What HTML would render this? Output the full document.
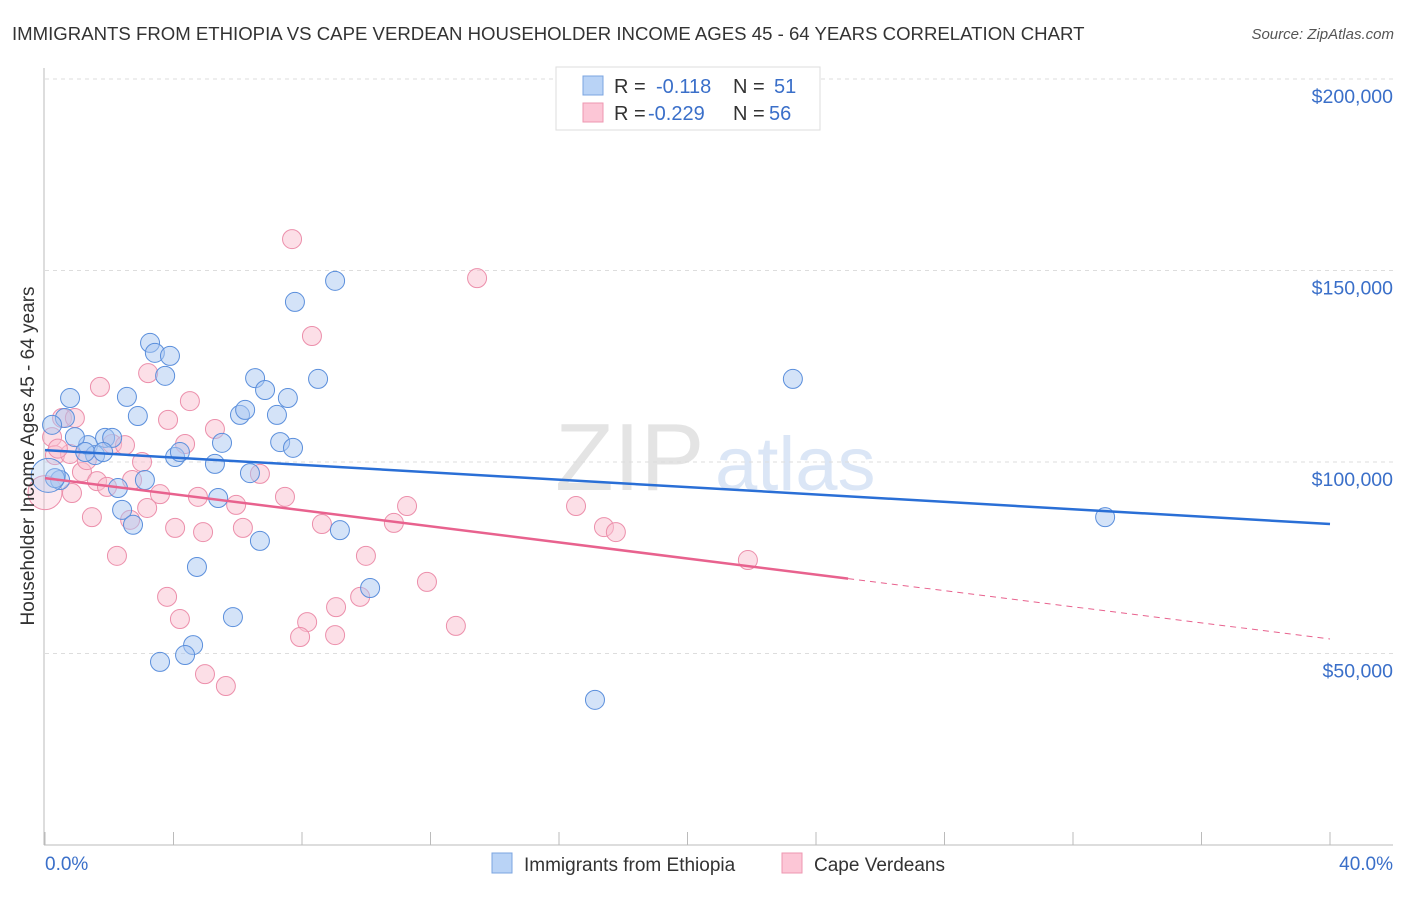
<!DOCTYPE html>
<html><head><meta charset="utf-8"><style>
body{margin:0;background:#fff;width:1406px;height:892px;overflow:hidden;font-family:"Liberation Sans",sans-serif}
svg text{font-family:"Liberation Sans",sans-serif}
</style></head><body>
<svg id="chart" width="1406" height="892" xmlns="http://www.w3.org/2000/svg">
<text x="12" y="40" font-size="18.6" fill="#333">IMMIGRANTS FROM ETHIOPIA VS CAPE VERDEAN HOUSEHOLDER INCOME AGES 45 - 64 YEARS CORRELATION CHART</text>
<text x="1394" y="39" font-size="15" fill="#555" font-style="italic" text-anchor="end">Source: ZipAtlas.com</text>
<g>
<text x="555" y="490" font-size="96" fill="#e4e4e4" font-family="Liberation Serif,serif">ZIP</text>
<text x="715" y="490" font-size="76" fill="#dbe6f6">atlas</text>
</g>
<g id="grid"></g>
<g id="axes"></g>
<g id="marks"></g>
<g>
<rect x="556" y="67" width="264" height="63" fill="#fff" stroke="#ddd"/>
<rect x="583" y="76" width="20" height="19" fill="#b9d3f6" stroke="#7ba4e0"/>
<rect x="583" y="103" width="20" height="19" fill="#fcc6d6" stroke="#ee97b0"/>
<text x="614" y="93" font-size="20" fill="#333">R = </text><text x="656" y="93" font-size="20" fill="#3a6fc9">-0.118</text>
<text x="733" y="93" font-size="20" fill="#333">N = </text><text x="774" y="93" font-size="20" fill="#3a6fc9">51</text>
<text x="614" y="120" font-size="20" fill="#333">R = </text><text x="648" y="120" font-size="20" fill="#3a6fc9">-0.229</text>
<text x="733" y="120" font-size="20" fill="#333">N = </text><text x="769" y="120" font-size="20" fill="#3a6fc9">56</text>
</g>
<g>
<rect x="492" y="853" width="20" height="20" fill="#b9d3f6" stroke="#7ba4e0"/>
<text x="524" y="871" font-size="19" fill="#333">Immigrants from Ethiopia</text>
<rect x="782" y="853" width="20" height="20" fill="#fcc6d6" stroke="#ee97b0"/>
<text x="814" y="871" font-size="19" fill="#333">Cape Verdeans</text>
</g>
<text transform="translate(34,456) rotate(-90)" font-size="19" fill="#333" text-anchor="middle">Householder Income Ages 45 - 64 years</text>
<text x="45" y="870" font-size="19" fill="#3a6fc9">0.0%</text>
<text x="1393" y="870" font-size="19" fill="#3a6fc9" text-anchor="end">40.0%</text>
</svg>
<script>
const yTicks=[200000,150000,100000,50000];
const yTickLabels=["$200,000","$150,000","$100,000","$50,000"];
const xTicks=[0,4,8,12,16,20,24,28,32,36,40];
const blueX=[0.78,0.62,0.22,1.34,0.93,1.56,1.25,1.87,2.09,0.47,0.31,2.27,2.40,2.74,2.55,2.89,3.27,3.42,3.89,3.74,3.11,4.05,4.20,5.29,5.51,5.39,6.07,6.23,6.54,6.85,6.38,6.69,7.22,7.32,7.56,7.72,7.78,8.50,9.03,9.18,10.12,4.73,5.85,4.61,4.36,3.58,17.12,23.28,33.0,1.81,0.1];
const blueY=[116.7,111.5,109.7,104.4,106.5,101.8,102.6,106.3,106.3,95.3,95.8,93.2,87.5,83.6,117.0,112.0,131.1,128.5,127.7,122.5,95.3,101.3,102.6,99.5,105.0,90.6,112.3,113.6,121.9,118.8,97.1,79.4,112.3,105.2,116.7,103.7,141.8,121.7,147.3,82.2,67.1,72.6,59.5,52.2,49.6,47.8,37.9,121.7,85.6,102.6,96.5];
const pinkX=[0.22,0.53,0.93,0.31,0.78,1.71,1.15,1.62,1.93,2.09,2.49,0.84,1.46,2.24,2.65,3.02,3.21,2.71,3.18,3.58,3.83,4.05,4.20,3.80,4.36,4.51,4.76,5.29,4.92,5.95,6.16,6.69,4.98,5.63,7.47,7.69,8.31,8.62,8.16,7.94,9.06,9.03,9.81,9.99,10.86,11.27,11.89,12.79,13.45,16.53,17.40,17.77,21.88,0.4,1.3,0.0];
const pinkY=[106.5,111.5,111.5,101.8,102.1,119.6,97.4,95.0,93.5,104.7,104.4,91.9,85.6,75.5,84.9,100.0,123.2,95.3,88.0,91.6,111.0,82.8,59.0,64.8,104.7,115.9,90.9,108.6,81.7,88.8,82.8,96.9,44.6,41.5,90.9,158.2,132.9,83.8,58.2,54.3,62.1,54.8,64.8,75.5,84.1,88.5,68.7,57.2,148.0,88.5,83.0,81.7,74.4,103.5,100.5,92.0];
const blueTrend=[103.1,83.8];
const pinkTrend=[95.8,53.8];
const pinkSolidEnd=25.0;
const NS="http://www.w3.org/2000/svg";
const X=v=>45+v/40*1285;
const Y=v=>845-v/200000*766;
function mk(tag,attrs,parent){const e=document.createElementNS(NS,tag);for(const k in attrs)e.setAttribute(k,attrs[k]);parent.appendChild(e);return e;}
const grid=document.getElementById('grid'),axes=document.getElementById('axes'),marks=document.getElementById('marks');
yTicks.forEach((t,i)=>{
 const l=mk('line',{x1:45,x2:1393,y1:Y(t),y2:Y(t),stroke:'#ddd','stroke-dasharray':'4,4'},grid);
 
 
 const tx=mk('text',{x:1393,y:Y(t)+24,'font-size':19.5,fill:'#3a6fc9','text-anchor':'end'},axes);
 tx.textContent=yTickLabels[i];
 
 
});
const ya=mk('line',{x1:44,x2:44,y1:68,y2:845,stroke:'#bbb'},axes);


const xa=mk('line',{x1:44,x2:1393,y1:845,y2:845,stroke:'#bbb'},axes);


xTicks.forEach(t=>{
 const l=mk('line',{x1:X(t),x2:X(t),y1:832,y2:845,stroke:'#bbb'},axes);
 
 
});
function pts(xs,ys,fill,stroke,name){
 xs.forEach((x,i)=>{
  const big=(i===xs.length-1);
  const c=mk('circle',{cx:X(x),cy:Y(ys[i]*1000),r:big?17:9.5,fill:fill,'fill-opacity':big?0.35:0.5,stroke:stroke,'stroke-width':1},marks);
  
  
 });
}
pts(pinkX,pinkY,'#f9bfd0','#ec8fab','cape-verdean-point');
pts(blueX,blueY,'#a9c8f2','#5b8fdc','ethiopia-point');
const bl=mk('line',{x1:X(0),y1:Y(blueTrend[0]*1000),x2:X(40),y2:Y(blueTrend[1]*1000),stroke:'#2a6fd6','stroke-width':2.5},marks);


const pv=x=>pinkTrend[0]+(pinkTrend[1]-pinkTrend[0])*x/40;
const pl=mk('line',{x1:X(0),y1:Y(pv(0)*1000),x2:X(pinkSolidEnd),y2:Y(pv(pinkSolidEnd)*1000),stroke:'#e8628e','stroke-width':2.5},marks);


const pd=mk('line',{x1:X(pinkSolidEnd),y1:Y(pv(pinkSolidEnd)*1000),x2:X(40),y2:Y(pv(40)*1000),stroke:'#e8628e','stroke-width':1,'stroke-dasharray':'6,5'},marks);


</script>
</body></html>
